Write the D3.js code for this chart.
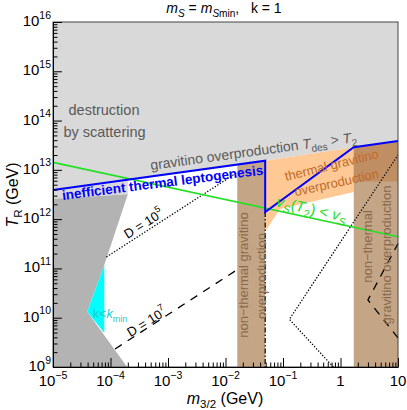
<!DOCTYPE html>
<html lang="en">
<head>
<meta charset="utf-8">
<title>T_R vs gravitino mass</title>
<script src="https://d3js.org/d3.v7.min.js"></script>
<style>
  body { margin: 0; background: #fff; }
  text { font-family: "Liberation Sans", Arial, sans-serif; white-space: pre; }
</style>
</head>
<body>
<script>

// DATA: points are [m_3/2 (GeV), T_R (GeV)]
var xTicks = [1e-5, 1e-4, 1e-3, 1e-2, 1e-1, 1, 10];
var xTickLabels = [["10", "−5"], ["10", "−4"], ["10", "−3"], ["10", "−2"], ["10", "−1"], ["1", ""], ["10", ""]];
var yTicks = [1e9, 1e10, 1e11, 1e12, 1e13, 1e14, 1e15, 1e16];
var yTickLabels = [["10", "9"], ["10", "10"], ["10", "11"], ["10", "12"], ["10", "13"], ["10", "14"], ["10", "15"], ["10", "16"]];

var scatteringRegion = [[1e-5, 1e16], [10, 1e16], [10, 3.85e13], [1.7, 2.87e13], [0.049, 1.53e13], [2e-4, 6.3e12], [2e-4, 3.2e12], [1e-5, 2.6e12]];
var darkGrayRegion = [[1e-5, 2.6e12], [2e-4, 3.2e12], [7.8e-5, 1.17e11], [3.95e-5, 1.32e10], [1.95e-4, 1e9], [1e-5, 1e9]];
var kMinRegion = [[7.8e-5, 1.17e11], [3.95e-5, 1.32e10], [7.8e-5, 4.9e9]];
var thermalRegion = [[0.049, 1.53e13], [1.7, 2.87e13], [1.7, 3.56e12], [0.089, 1.61e12], [0.049, 5.7e11]];
var nonThermalBand1 = [[0.016, 1e9], [0.049, 1e9], [0.049, 1.53e13], [0.016, 1.28e13]];
var nonThermalBand2 = [[1.7, 1e9], [10, 1e9], [10, 3.85e13], [1.7, 2.87e13]];
var band2Overlap = [[1.7, 2.87e13], [10, 3.85e13], [10, 5.8e12], [1.7, 5.8e12]];

var leptoLine = [[1e-5, 3.9e12], [0.049, 1.53e13], [0.049, 1.4e12], [1.7, 2.87e13], [10, 3.85e13]];
var vsLine = [[1e-5, 1.42e13], [10, 4.4e11]];
var d5Left = [[8.5e-5, 1.71e11], [0.0157, 8.75e12]];
var d5Right = [[0.75, 1e9], [0.129, 9.3e9], [10, 2.0e13]];
var d7Left = [[1.2e-4, 2.32e9], [0.0157, 9.3e10]];
var d7Right = [[10, 3.9e9], [3.0, 2.29e10], [10, 3.2e11]];
var dashDotLine = [[0.049, 1.4e12], [0.049, 1e9]];

// SIZES
var w = 407, h = 410;
var plotLeft = 53, plotRight = 398, plotTop = 22, plotBottom = 367;

var x = d3.scaleLog().domain([1e-5, 10]).range([plotLeft, plotRight]);
var y = d3.scaleLog().domain([1e9, 1e16]).range([plotBottom, plotTop]);

var line = d3.line()
  .x(function(d) { return x(d[0]); })
  .y(function(d) { return y(d[1]); });

var svg = d3.select("body").append("svg")
  .attr("width", w)
  .attr("height", h);

// REGIONS
function region(pts, fill) {
  svg.append("path")
    .attr("d", line(pts) + "Z")
    .attr("fill", fill);
}
region(scatteringRegion, "#d9d9d9");
region(darkGrayRegion, "#b3b3b3");
region(kMinRegion, "#00ffff");
region(thermalRegion, "#ffc996");
region(nonThermalBand1, "#c4a687");
region(nonThermalBand2, "#c4a687");
region(band2Overlap, "#c08e63");

// CURVES
function curve(pts, color, width, dash) {
  svg.append("path")
    .attr("d", line(pts))
    .attr("fill", "none")
    .attr("stroke", color)
    .attr("stroke-width", width)
    .attr("stroke-dasharray", dash);
}
curve(d5Left, "#000", 1.3, "1.3,1.7");
curve(d5Right, "#000", 1.3, "1.3,1.7");
curve(d7Left, "#000", 1.3, "8,7");
curve(d7Right, "#000", 1.3, "8,7");
curve(dashDotLine, "#000", 1.2, "5,2,1.5,2");
curve(vsLine, "#22e022", 1.6, null);
curve(leptoLine, "#0000ff", 2, null);

// RICH TEXT HELPER
function addParts(t, parts, size) {
  var shift = 0;
  parts.forEach(function(p) {
    if (p[0] === "") return;
    var ts = t.append("tspan").text(p[0]);
    var target = 0;
    if (p[1] == "i" || p[1] == "isub") ts.attr("font-style", "italic");
    if (p[1] == "sub" || p[1] == "isub") { ts.attr("font-size", (size * 0.72) + "px"); target = size * 0.28; }
    if (p[1] == "sup") { ts.attr("font-size", (size * 0.7) + "px"); target = -size * 0.5; }
    if (target != shift) { ts.attr("dy", target - shift); shift = target; }
  });
}

function label(cx, cy, angle, size, color, parts, weight) {
  var t = svg.append("text")
    .attr("transform", "translate(" + cx + "," + cy + ") rotate(" + angle + ")")
    .attr("text-anchor", "middle")
    .attr("font-size", size + "px")
    .attr("fill", color)
    .attr("font-weight", weight || "normal");
  var inner = t.append("tspan").attr("dy", "0.35em");
  addParts(inner, parts, size);
  return t;
}

// ANNOTATIONS
label(104, 110, 0, 14.5, "#5a5a5a", [["destruction", ""]]);
label(104.5, 131.5, 0, 14.5, "#5a5a5a", [["by scattering", ""]]);
label(253.5, 151, -7.8, 14, "#5a5a5a", [["gravitino overproduction ", ""], ["T", "i"], ["des", "sub"], [" > ", ""], ["T", "i"], ["2", "sub"]]);
label(162.5, 182.5, -7.2, 13.5, "#0000ff", [["inefficient thermal leptogenesis", ""]], "bold");
label(331.5, 165, -14, 13, "#c0692a", [["thermal gravitino", ""]]);
label(336.5, 182.5, -12.5, 13, "#c0692a", [["overproduction", ""]]);
label(311.7, 209, 12.6, 15, "#22dd22", [["v", "i"], ["S", "isub"], ["(", ""], ["T", "i"], ["2", "sub"], [") < ", ""], ["v", "i"], ["S", "isub"]]);
label(143.5, 223.5, -32, 13, "#000", [["D = 10", ""], ["5", "sup"]]);
label(146.7, 321.7, -32, 13, "#000", [["D = 10", ""], ["7", "sup"]]);
label(110, 314, 0, 12.5, "#1ccaca", [["k<", ""], ["k", "i"], ["min", "sub"]]);
label(243.3, 275, -90, 13, "#8a6a4c", [["non−thermal gravitino", ""]]);
label(261.7, 276, -90, 13, "#8a6a4c", [["overproduction", ""]]);
label(367, 246.5, -90, 13, "#8a6a4c", [["non−thermal", ""]]);
label(386.5, 255, -90, 13, "#8a6a4c", [["gravitino overproduction", ""]]);

// AXES
var minorX = [], minorY = [];
for (var e = -5; e < 1; e++) for (var k = 2; k < 10; k++) minorX.push(k * Math.pow(10, e));
for (var e = 9; e < 16; e++) for (var k = 2; k < 10; k++) minorY.push(k * Math.pow(10, e));

svg.append("rect")
  .attr("x", plotLeft).attr("y", plotTop)
  .attr("width", plotRight - plotLeft).attr("height", plotBottom - plotTop)
  .attr("fill", "none").attr("stroke", "#444").attr("stroke-width", 1);

svg.append("g")
  .attr("transform", "translate(0," + plotBottom + ")")
  .call(d3.axisBottom(x).tickValues(minorX).tickSize(-4.5).tickFormat(""))
  .call(function(g) { g.select(".domain").remove(); });
svg.append("g")
  .attr("transform", "translate(0," + plotBottom + ")")
  .call(d3.axisBottom(x).tickValues(xTicks).tickSizeInner(-9).tickSizeOuter(0).tickFormat(""));

svg.append("g")
  .attr("transform", "translate(" + plotLeft + ",0)")
  .call(d3.axisLeft(y).tickValues(minorY).tickSize(-4.5).tickFormat(""))
  .call(function(g) { g.select(".domain").remove(); });
svg.append("g")
  .attr("transform", "translate(" + plotLeft + ",0)")
  .call(d3.axisLeft(y).tickValues(yTicks).tickSizeInner(-9).tickSizeOuter(0).tickFormat(""));

// TICK LABELS
xTicks.forEach(function(t, i) {
  var tx = svg.append("text")
    .attr("x", x(t)).attr("y", 386)
    .attr("text-anchor", "middle")
    .attr("font-size", "15px");
  addParts(tx, [[xTickLabels[i][0], ""], [xTickLabels[i][1], "sup"]], 15);
});
yTicks.forEach(function(t, i) {
  var ty = svg.append("text")
    .attr("x", 51).attr("y", y(t) + 4)
    .attr("text-anchor", "end")
    .attr("font-size", "15px");
  addParts(ty, [[yTickLabels[i][0], ""], [yTickLabels[i][1], "sup"]], 15);
});

// AXIS TITLES
var xt = svg.append("text").attr("x", 225).attr("y", 404).attr("text-anchor", "middle").attr("font-size", "16px");
addParts(xt, [["m", "i"], ["3/2", "sub"], [" (GeV)", ""]], 16);

var yt = svg.append("text").attr("transform", "translate(18,195) rotate(-90)").attr("text-anchor", "middle").attr("font-size", "16px");
addParts(yt, [["T", "i"], ["R", "sub"], [" (GeV)", ""]], 16);

var title = svg.append("text").attr("x", 224).attr("y", 13).attr("text-anchor", "middle").attr("font-size", "14px");
addParts(title, [["m", "i"], ["S", "isub"], [" = ", ""], ["m", "i"], ["S", "isub"], ["min", "sub"], [",   k = 1", ""]], 14);

</script>
</body>
</html>
